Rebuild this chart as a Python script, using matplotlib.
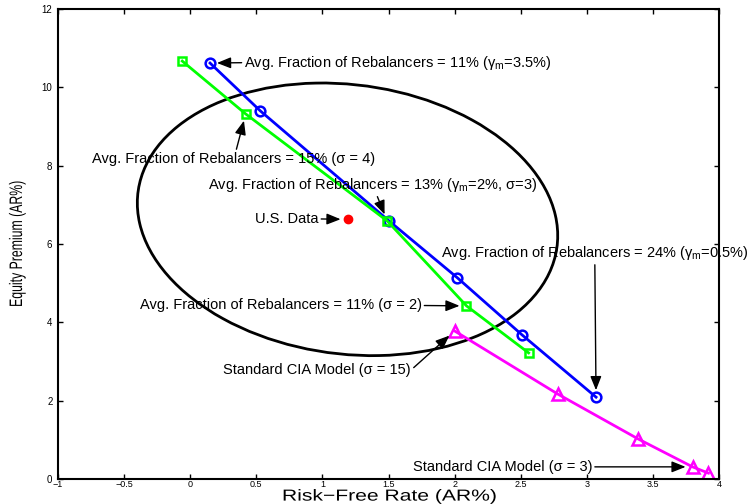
import matplotlib
matplotlib.use("Agg")
import matplotlib.pyplot as plt
import numpy as np
from matplotlib.patches import Ellipse
from matplotlib.patheffects import AbstractPathEffect
from matplotlib.transforms import Affine2D

# model output: risk-free rate vs. equity premium (annual %)
rf_gamma = [0.15, 0.53, 1.50, 2.02, 2.51, 3.07]
ep_gamma = [10.62, 9.40, 6.60, 5.14, 3.68, 2.09]

rf_sigma = [-0.06, 0.42, 1.49, 2.09, 2.56]
ep_sigma = [10.67, 9.32, 6.59, 4.42, 3.22]

rf_cia = [2.00, 2.78, 3.39, 3.80, 3.92]
ep_cia = [3.78, 2.17, 1.02, 0.31, 0.15]

# U.S. data and its confidence region
us_rf, us_ep = 1.19, 6.63
us_sd_rf, us_sd_ep, us_corr = 1.59, 3.48, -0.12

xticks = np.arange(-1, 4.01, 0.5)
yticks = np.arange(0, 12.1, 2)


class Squeeze(AbstractPathEffect):
    """Scale the drawn glyphs about their own centre."""

    def __init__(self, sx=1.0, sy=1.0):
        super().__init__()
        self.sx, self.sy = sx, sy

    def draw_path(self, renderer, gc, tpath, affine, rgbFace=None):
        bb = tpath.get_extents(affine)
        cx, cy = bb.x0 + bb.width / 2, bb.y0 + bb.height / 2
        t = affine + Affine2D().translate(-cx, -cy).scale(self.sx, self.sy).translate(cx, cy)
        renderer.draw_path(gc, tpath, t, rgbFace)


plt.rcParams["font.family"] = ["Liberation Sans", "DejaVu Sans"]
plt.rcParams["mathtext.fontset"] = "custom"
plt.rcParams["mathtext.rm"] = "Liberation Sans"
plt.rcParams["mathtext.it"] = "Liberation Sans:italic"

fig = plt.figure(figsize=(7.49, 5.04), dpi=100)
ax = fig.add_axes([58 / 749, 25 / 504, 661 / 749, 470 / 504])

# confidence ellipse from the covariance of the data
cov = np.array([[us_sd_rf ** 2, us_corr * us_sd_rf * us_sd_ep],
                [us_corr * us_sd_rf * us_sd_ep, us_sd_ep ** 2]])
vals, vecs = np.linalg.eigh(cov)
angle = np.degrees(np.arctan2(vecs[1, 1], vecs[0, 1]))
ax.add_patch(Ellipse((us_rf, us_ep), 2 * np.sqrt(vals[1]), 2 * np.sqrt(vals[0]),
                     angle=angle, fill=False, ec="k", lw=2))

ax.plot(rf_gamma, ep_gamma, "-o", color="#0000ff", lw=2, ms=7, mfc="none", mew=1.8)
ax.plot(rf_sigma, ep_sigma, "-s", color="#00ff00", lw=2, ms=6, mfc="none", mew=1.8)
ax.plot(rf_cia, ep_cia, "-^", color="#ff00ff", lw=2, ms=8, mfc="none", mew=1.8)
ax.plot(us_rf, us_ep, "o", color="#ff0000", ms=6)

arrow = dict(arrowstyle="-|>,head_length=0.7,head_width=0.28", color="k", lw=1,
             mutation_scale=12, shrinkA=0, shrinkB=5)
fs = 10.5


def note(text, xy, xytext, ha="center", relpos=(0.5, 0.5)):
    ap = dict(arrow, relpos=relpos)
    ax.annotate(text, xy=xy, xytext=xytext, ha=ha, va="center", fontsize=fs,
                arrowprops=ap)


note(r"Avg. Fraction of Rebalancers = 11% (γ$_{\rm m}$=3.5%)",
     (rf_gamma[0], ep_gamma[0]), (0.41, 10.63), ha="left", relpos=(0, 0.5))
note("Avg. Fraction of Rebalancers = 15% (σ = 4)",
     (rf_sigma[1], ep_sigma[1]), (0.33, 8.17))
note(r"Avg. Fraction of Rebalancers = 13% (γ$_{\rm m}$=2%, σ=3)",
     (rf_sigma[2], ep_sigma[2]), (1.38, 7.51))
note("U.S. Data", (us_rf, us_ep), (0.97, 6.64), ha="right", relpos=(1, 0.5))
note(r"Avg. Fraction of Rebalancers = 24% (γ$_{\rm m}$=0.5%)",
     (rf_gamma[-1], ep_gamma[-1]), (3.06, 5.77))
note("Avg. Fraction of Rebalancers = 11% (σ = 2)",
     (rf_sigma[3], ep_sigma[3]), (1.75, 4.43), ha="right", relpos=(1, 0.5))
note("Standard CIA Model (σ = 15)",
     (rf_cia[0], ep_cia[0]), (0.96, 2.78), relpos=(1, 0.5))
note("Standard CIA Model (σ = 3)",
     (rf_cia[3], ep_cia[3]), (3.04, 0.31), ha="right", relpos=(1, 0.5))

ax.set_xlim(-1, 4)
ax.set_ylim(0, 12)
ax.set_xticks(xticks)
ax.set_yticks(yticks)
ax.set_xticklabels([f"{t:g}".replace("-", "\u2212") for t in xticks])
ax.set_yticklabels([f"{t:g}" for t in yticks])
ax.tick_params(direction="in", length=3.8, width=1, labelsize=7,
               top=True, right=True)
ax.tick_params(axis="x", pad=0.5, labelsize=6.5)
ax.tick_params(axis="y", pad=4)
for s in ax.spines.values():
    s.set_linewidth(1.5)

ax.set_xlabel("Risk\u2212Free Rate (AR%)", fontsize=11.5, va="baseline",
              path_effects=[Squeeze(1.32, 1.0)])
ax.xaxis.set_label_coords(0.502, (479 - 500.6) / 470)
ax.set_ylabel("Equity Premium (AR%)", fontsize=13, va="center",
              path_effects=[Squeeze(1.0, 0.68)])
ax.yaxis.set_label_coords((17.5 - 58) / 661, (479 - 244) / 470)

fig.savefig("out.png", dpi=100)
